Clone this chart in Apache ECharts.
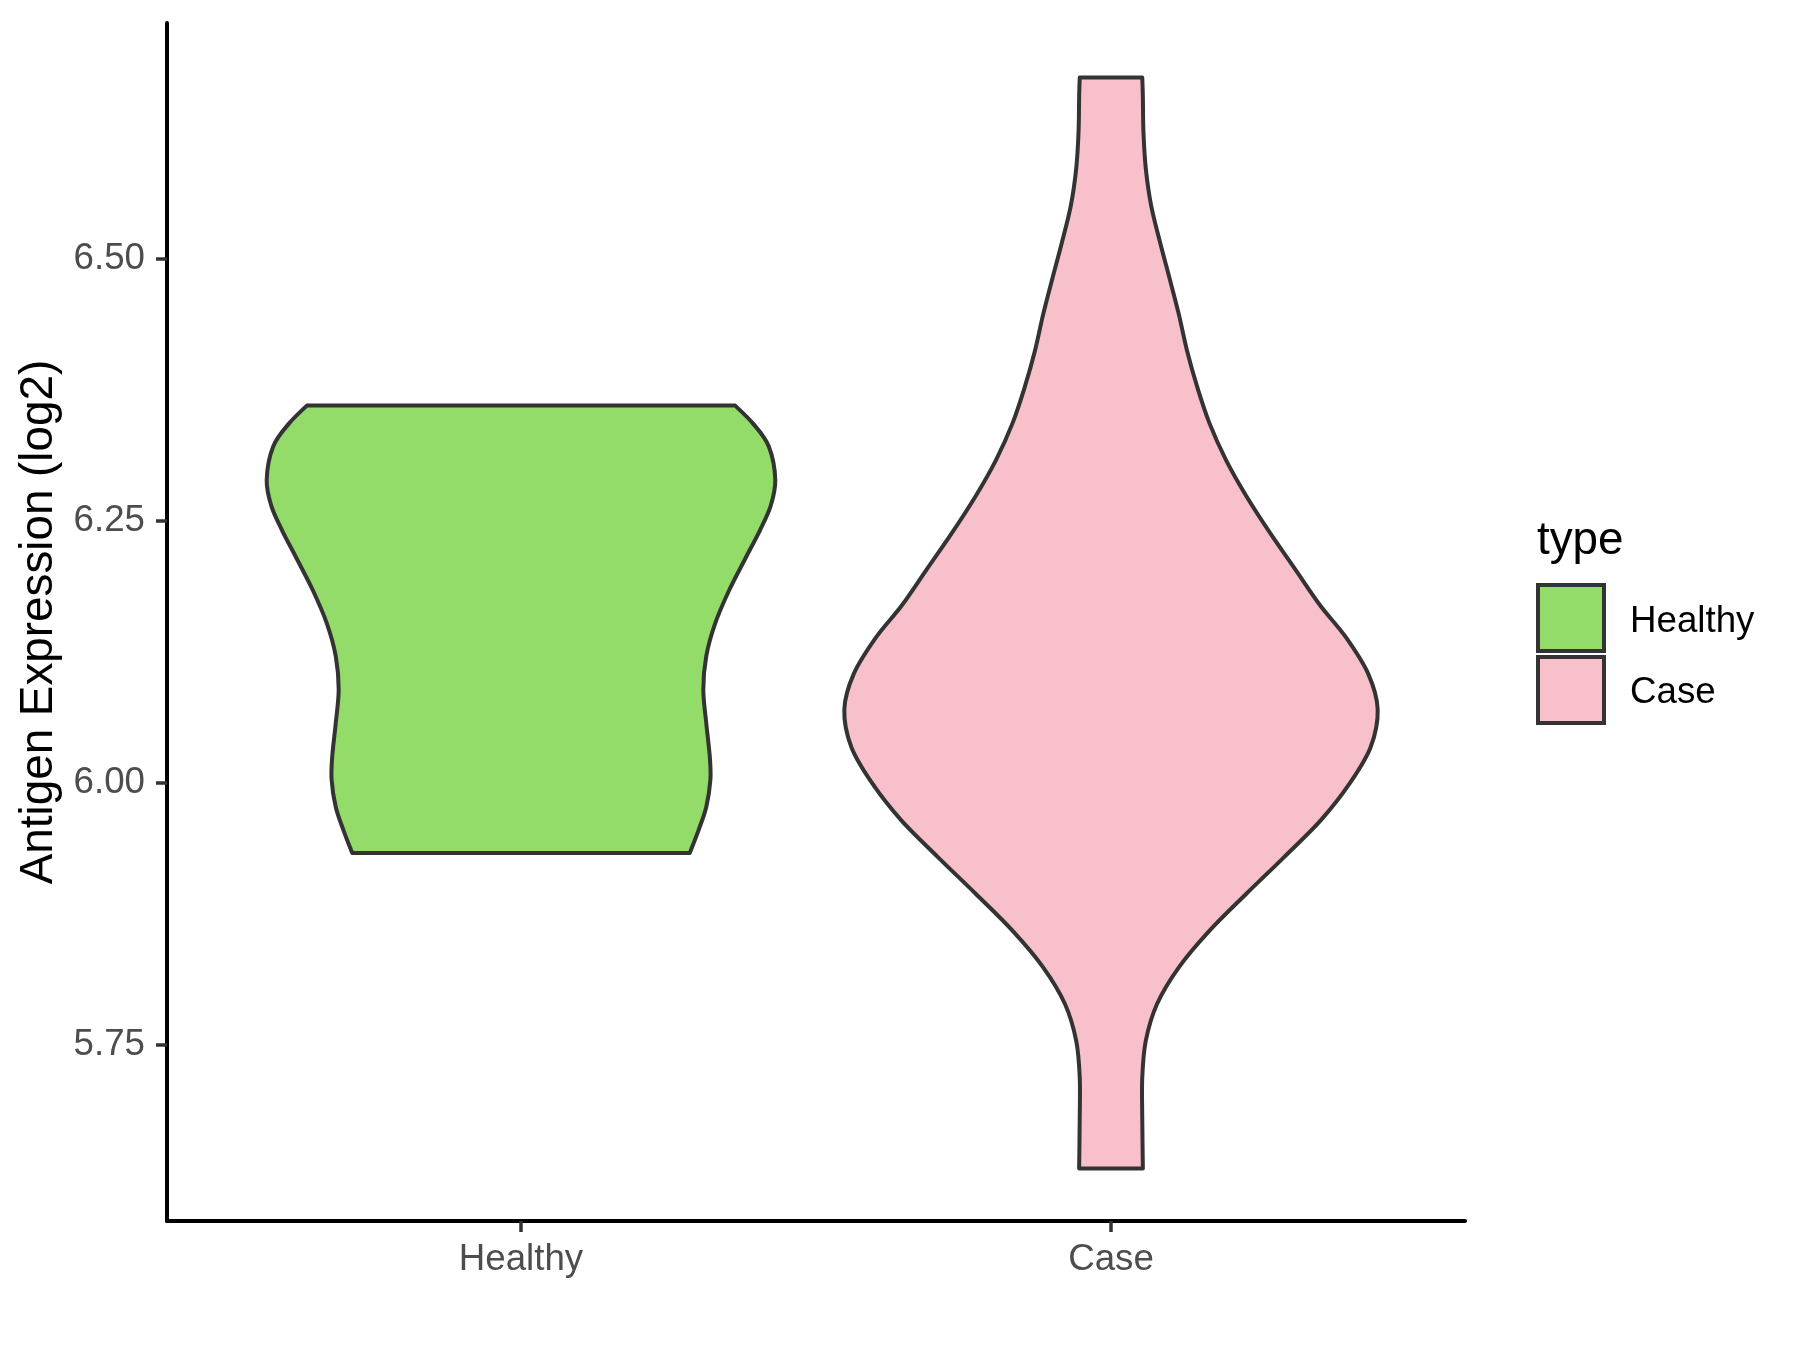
<!DOCTYPE html>
<html>
<head>
<meta charset="utf-8">
<script src="https://cdn.jsdelivr.net/npm/echarts@6/dist/echarts.min.js"></script>
<style>
html,body{margin:0;padding:0;background:#fff;}
#chart{width:1800px;height:1350px;}
</style>
</head>
<body>
<div id="chart"></div>
<script>
// ---- data ----
const categories = ['Healthy', 'Case'];
const yTicks = [5.75, 6.00, 6.25, 6.50];

// Healthy violin profile: expression value (top -> bottom) and half-width (category units)
const healthyY = [6.360, 6.343, 6.321, 6.289, 6.264, 6.241, 6.216, 6.184, 6.152, 6.121, 6.089, 6.057, 6.025, 6.003, 5.977, 5.955, 5.933];
const healthyW = [0.363, 0.393, 0.420, 0.431, 0.423, 0.405, 0.382, 0.353, 0.329, 0.314, 0.309, 0.314, 0.320, 0.321, 0.314, 0.301, 0.286];

// Case violin profile
const caseY = [6.673, 6.655, 6.621, 6.586, 6.551, 6.516, 6.482, 6.447, 6.412, 6.378, 6.343, 6.308, 6.274, 6.239, 6.204, 6.169, 6.139, 6.104, 6.070, 6.034, 5.999, 5.964, 5.929, 5.894, 5.859, 5.824, 5.789, 5.754, 5.719, 5.680, 5.632];
const caseW = [0.053, 0.054, 0.055, 0.059, 0.068, 0.083, 0.099, 0.115, 0.129, 0.146, 0.167, 0.195, 0.229, 0.269, 0.312, 0.355, 0.398, 0.436, 0.452, 0.440, 0.404, 0.355, 0.293, 0.229, 0.167, 0.115, 0.078, 0.059, 0.053, 0.053, 0.054];

const colors = { Healthy: '#93DC6A', Case: '#F7C0CB' };
const FONT = '"Liberation Sans", Arial, sans-serif';

function catmull(pts) {
  let d = '';
  const n = pts.length;
  for (let i = 0; i < n - 1; i++) {
    const p0 = pts[Math.max(0, i - 1)], p1 = pts[i], p2 = pts[i + 1], p3 = pts[Math.min(n - 1, i + 2)];
    const c1x = p1[0] + (p2[0] - p0[0]) / 6, c1y = p1[1] + (p2[1] - p0[1]) / 6;
    const c2x = p2[0] - (p3[0] - p1[0]) / 6, c2y = p2[1] - (p3[1] - p1[1]) / 6;
    d += ' C' + c1x.toFixed(2) + ' ' + c1y.toFixed(2) + ' ' + c2x.toFixed(2) + ' ' + c2y.toFixed(2) + ' ' + p2[0].toFixed(2) + ' ' + p2[1].toFixed(2);
  }
  return d;
}

function violinRenderer(ys, ws, color) {
  return function (params, api) {
    const cx = api.value(0);
    const right = ys.map((y, i) => api.coord([cx + ws[i], y]));
    const left = ys.map((y, i) => api.coord([cx - ws[i], y])).reverse();
    let d = 'M' + left[left.length - 1][0] + ' ' + left[left.length - 1][1];
    d += ' L' + right[0][0] + ' ' + right[0][1];
    d += catmull(right);
    d += ' L' + left[0][0] + ' ' + left[0][1];
    d += catmull(left);
    d += ' Z';
    return {
      type: 'path',
      shape: { pathData: d },
      style: { fill: color, stroke: '#333333', lineWidth: 4, lineJoin: 'round' }
    };
  };
}

const chart = echarts.init(document.getElementById('chart'), null, { renderer: 'canvas' });
const option = {
  animation: false,
  backgroundColor: '#ffffff',
  grid: { left: 167, right: 335, top: 23, bottom: 129, containLabel: false },
  xAxis: {
    type: 'value', min: 0.4, max: 2.6,
    splitLine: { show: false },
    axisLine: { show: true, onZero: false, lineStyle: { color: '#000000', width: 4 } },
    axisTick: { show: true, customValues: [1, 2], length: 11, lineStyle: { color: '#333333', width: 3.5 } },
    axisLabel: {
      customValues: [1, 2], margin: 20,
      formatter: v => categories[Math.round(v) - 1],
      color: '#4D4D4D', fontSize: 36.7, fontFamily: FONT
    }
  },
  yAxis: {
    type: 'value', min: 5.582, max: 6.725,
    name: 'Antigen Expression (log2)', nameLocation: 'middle', nameGap: 104,
    nameTextStyle: { color: '#000000', fontSize: 45.8, fontFamily: FONT },
    splitLine: { show: false },
    axisLine: { show: true, onZero: false, lineStyle: { color: '#000000', width: 4 } },
    axisTick: { show: true, customValues: yTicks, length: 11, lineStyle: { color: '#333333', width: 3.5 } },
    axisLabel: {
      customValues: yTicks, margin: 22,
      formatter: v => v.toFixed(2),
      color: '#4D4D4D', fontSize: 36.7, fontFamily: FONT
    }
  },
  series: [
    { type: 'custom', name: 'Healthy', data: [[1]], renderItem: violinRenderer(healthyY, healthyW, colors.Healthy), clip: false },
    { type: 'custom', name: 'Case', data: [[2]], renderItem: violinRenderer(caseY, caseW, colors.Case), clip: false }
  ],
  graphic: [
    { type: 'text', left: 1537, top: 518, style: { text: 'type', fontSize: 45.8, fontFamily: FONT, fill: '#000000' } },
    { type: 'rect', shape: { x: 1538, y: 585, width: 66, height: 66 }, style: { fill: colors.Healthy, stroke: '#333333', lineWidth: 4 } },
    { type: 'rect', shape: { x: 1538, y: 657, width: 66, height: 66 }, style: { fill: colors.Case, stroke: '#333333', lineWidth: 4 } },
    { type: 'text', x: 1630, y: 622, style: { text: 'Healthy', fontSize: 36.7, fontFamily: FONT, fill: '#000000', verticalAlign: 'middle' } },
    { type: 'text', x: 1630, y: 693, style: { text: 'Case', fontSize: 36.7, fontFamily: FONT, fill: '#000000', verticalAlign: 'middle' } }
  ]
};
chart.setOption(option);
</script>
</body>
</html>
